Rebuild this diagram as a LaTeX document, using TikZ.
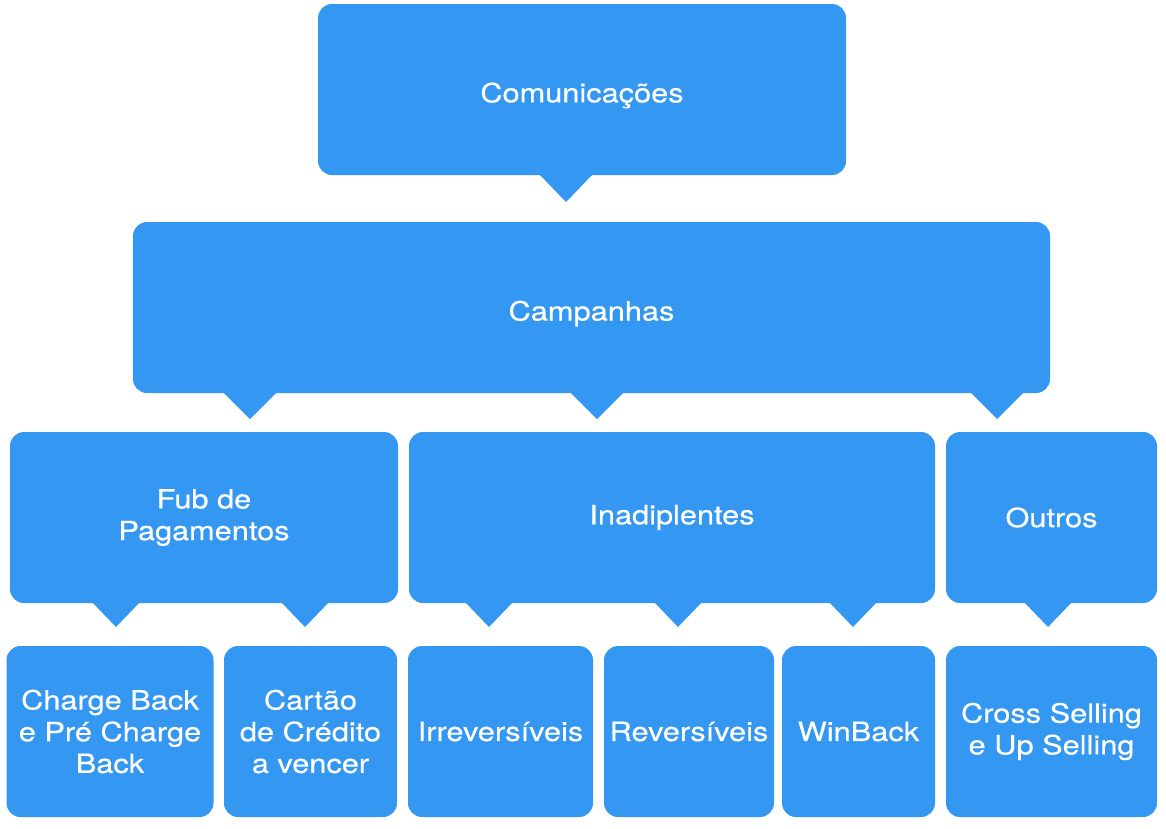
\documentclass[tikz,border=0pt]{standalone}
\usepackage{fontspec}
\setmainfont{TeX Gyre Heros}[FakeStretch=1.16,FakeBold=0.4]
\definecolor{boxblue}{RGB}{52,152,243}
\begin{document}
\begin{tikzpicture}[x=1pt,y=-1pt,
  box/.style={fill=boxblue, rounded corners=14pt, inner sep=0pt, text=white,
    align=center, font=\fontsize{26.5}{31.7}\selectfont},
  ptr/.style={fill=boxblue}]
\useasboundingbox (0,0) rectangle (1166,828);
% level 1
\node[box, minimum width=528pt, minimum height=171pt] (com) at (582,89.5) {\raisebox{-6pt}[\height][\depth]{Comunica\c{c}\~oes}};
% level 2
\node[box, minimum width=917pt, minimum height=171pt] (camp) at (591.5,307.5) {\raisebox{-6pt}[\height][\depth]{Campanhas}};
% level 3
\node[box, minimum width=388pt, minimum height=171pt] (fub) at (204,517.5) {Fub de\\Pagamentos};
\node[box, minimum width=526pt, minimum height=171pt] (inad) at (672,517.5) {Inadiplentes};
\node[box, minimum width=211pt, minimum height=171pt] (out) at (1051.5,517.5) {Outros};
% level 4
\node[box, minimum width=207pt, minimum height=171pt] (cb) at (110,731.5) {Charge Back\\e Pr\'e Charge\\Back};
\node[box, minimum width=173pt, minimum height=171pt] (cc) at (310.5,731.5) {Cart\~ao\\de Cr\'edito\\a vencer};
\node[box, minimum width=185pt, minimum height=171pt] (irr) at (500.5,731.5) {Irrevers\'iveis};
\node[box, minimum width=170pt, minimum height=171pt] (rev) at (689,731.5) {Revers\'iveis};
\node[box, minimum width=153pt, minimum height=171pt] (wb) at (858.5,731.5) {WinBack};
\node[box, minimum width=211pt, minimum height=171pt] (cs) at (1051.5,731.5) {Cross Selling\\e Up Selling};
% pointers
\coordinate (p0) at (566,202);
\fill[ptr] (p0) ++(-27,-28) -- (p0) -- ++(27,-28) -- cycle;
\foreach \ax in {250,597,997}{
  \fill[ptr] (\ax-27,392) -- (\ax,419) -- (\ax+27,392) -- cycle;
}
\foreach \ax in {116,305,489,678,853,1048}{
  \fill[ptr] (\ax-24,602) -- (\ax,627) -- (\ax+24,602) -- cycle;
}
\end{tikzpicture}
\end{document}
